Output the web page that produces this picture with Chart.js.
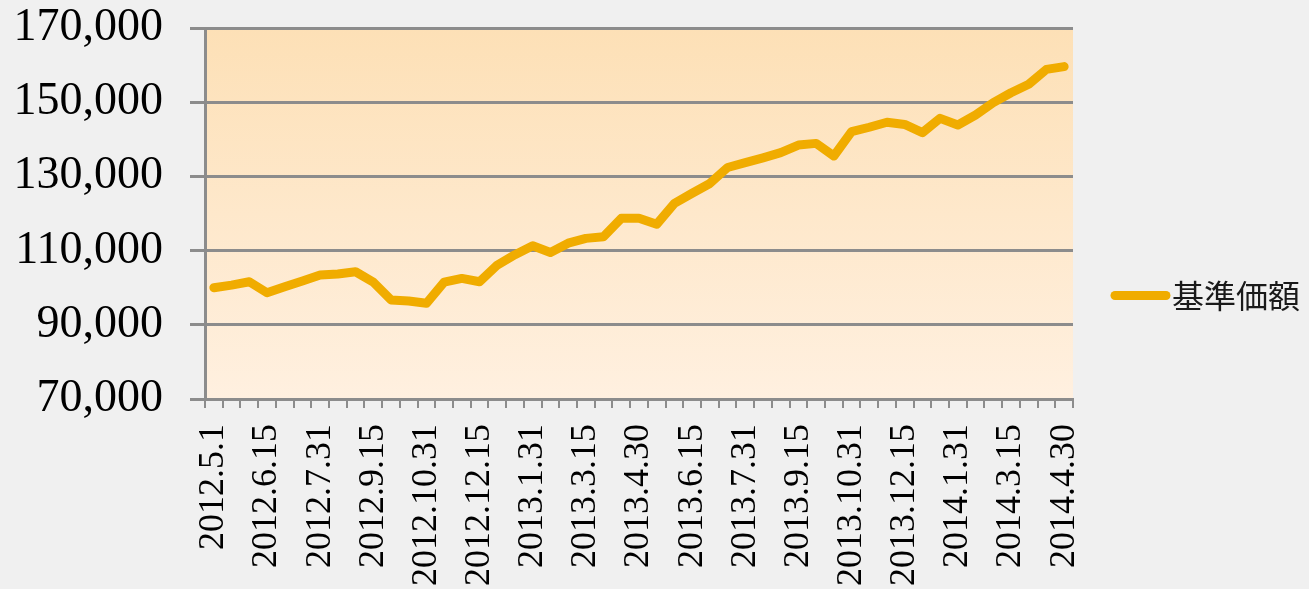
<!DOCTYPE html>
<html>
<head>
<meta charset="utf-8">
<title>基準価額</title>
<script src="https://cdn.jsdelivr.net/npm/chart.js@4.4.0/dist/chart.umd.min.js"></script>
<style>
  html, body { margin: 0; padding: 0; background: #f0f0f0; }
  #wrap { width: 1309px; height: 589px; }
</style>
</head>
<body>
<div id="wrap"><canvas id="myChart" width="1309" height="589"></canvas></div>
<script>
// semi-monthly dates, 2012.5.1 - 2014.4.30
var labels = [
  '2012.5.1', '2012.5.15', '2012.5.31', '2012.6.15', '2012.6.30', '2012.7.15', '2012.7.31',
  '2012.8.15', '2012.8.31', '2012.9.15', '2012.9.30', '2012.10.15', '2012.10.31',
  '2012.11.15', '2012.11.30', '2012.12.15', '2012.12.31',
  '2013.1.15', '2013.1.31', '2013.2.15', '2013.2.28', '2013.3.15', '2013.3.31',
  '2013.4.15', '2013.4.30', '2013.5.15', '2013.5.31', '2013.6.15', '2013.6.30',
  '2013.7.15', '2013.7.31', '2013.8.15', '2013.8.31', '2013.9.15', '2013.9.30',
  '2013.10.15', '2013.10.31', '2013.11.15', '2013.11.30', '2013.12.15', '2013.12.31',
  '2014.1.15', '2014.1.31', '2014.2.15', '2014.2.28', '2014.3.15', '2014.3.31',
  '2014.4.15', '2014.4.30'
];

var navValues = [
  100000, 100700, 101600, 98650, 100270, 101800, 103400,
  103700, 104300, 101500, 96700, 96400, 95800,
  101500, 102500, 101600, 106100,
  108900, 111300, 109500, 112000, 113300, 113750,
  118700, 118700, 117100, 122750, 125450, 128100,
  132400, 133700, 135000, 136400, 138450, 138900,
  135500, 142050, 143250, 144600, 144000, 141800,
  145650, 143850, 146550, 149900, 152550, 154850,
  158850, 159600
];

var yTicks = [70000, 90000, 110000, 130000, 150000, 170000];

var lineColor = '#f0ac00';
var gridColor = '#8c8c8c';

// plot area gradient
var plotBg = {
  id: 'plotBg',
  beforeDraw: function (chart) {
    var a = chart.chartArea;
    var ctx = chart.ctx;
    var g = ctx.createLinearGradient(0, a.top, 0, a.bottom);
    g.addColorStop(0, '#fde0b6');
    g.addColorStop(1, '#fff0e0');
    ctx.save();
    ctx.fillStyle = g;
    ctx.fillRect(a.left, a.top, a.right - a.left, a.bottom - a.top);
    ctx.restore();
  }
};

// legend on the right (line sample + label)
var sideLegend = {
  id: 'sideLegend',
  afterDraw: function (chart) {
    var ctx = chart.ctx;
    var ds = chart.data.datasets[0];
    var y = chart.height / 2 + 1;
    var x0 = chart.chartArea.right + 42;
    ctx.save();
    ctx.strokeStyle = ds.borderColor;
    ctx.lineWidth = 9;
    ctx.lineCap = 'round';
    ctx.beginPath();
    ctx.moveTo(x0, y);
    ctx.lineTo(x0 + 51, y);
    ctx.stroke();
    ctx.fillStyle = '#1a1a1a';
    ctx.font = '32px "Noto Sans CJK JP", sans-serif';
    ctx.textBaseline = 'middle';
    ctx.fillText(ds.label, x0 + 57, y);
    ctx.restore();
  }
};

var ctx = document.getElementById('myChart').getContext('2d');
var chart = new Chart(ctx, {
  type: 'line',
  data: {
    labels: labels,
    datasets: [
      {
        label: '基準価額',
        data: navValues,
        borderColor: lineColor,
        backgroundColor: lineColor,
        borderWidth: 9,
        borderCapStyle: 'round',
        borderJoinStyle: 'round',
        pointRadius: 0,
        tension: 0,
        fill: false
      }
    ]
  },
  options: {
    responsive: false,
    animation: false,
    layout: {
      padding: { top: 28, right: 236, bottom: 0, left: 0 }
    },
    plugins: {
      legend: { display: false },
      tooltip: { enabled: false }
    },
    scales: {
      x: {
        offset: true,
        afterFit: function (scale) { scale.height = 190; },
        grid: {
          display: true,
          offset: true,
          drawOnChartArea: false,
          drawTicks: true,
          tickLength: 9,
          color: gridColor,
          lineWidth: 2
        },
        border: { display: true, color: gridColor, width: 3 },
        ticks: {
          autoSkip: false,
          maxRotation: 90,
          minRotation: 90,
          padding: 16,
          color: '#000',
          font: { family: '"Liberation Serif", "Times New Roman", serif', size: 36 },
          callback: function (val, i) {
            return i % 3 === 0 ? labels[i] : '';
          }
        }
      },
      y: {
        min: yTicks[0],
        max: yTicks[yTicks.length - 1],
        afterFit: function (scale) {
          scale.width = 205;
          scale.paddingTop = 0;
          scale.paddingBottom = 0;
        },
        afterBuildTicks: function (scale) {
          scale.ticks = yTicks.map(function (v) { return { value: v }; });
        },
        grid: {
          color: gridColor,
          lineWidth: 3,
          tickLength: 15
        },
        border: { display: true, color: gridColor, width: 3 },
        ticks: {
          padding: 27,
          color: '#000',
          font: { family: '"Liberation Serif", "Times New Roman", serif', size: 46 },
          callback: function (v) { return v.toLocaleString('en-US'); }
        }
      }
    }
  },
  plugins: [plotBg, sideLegend]
});
</script>
</body>
</html>
